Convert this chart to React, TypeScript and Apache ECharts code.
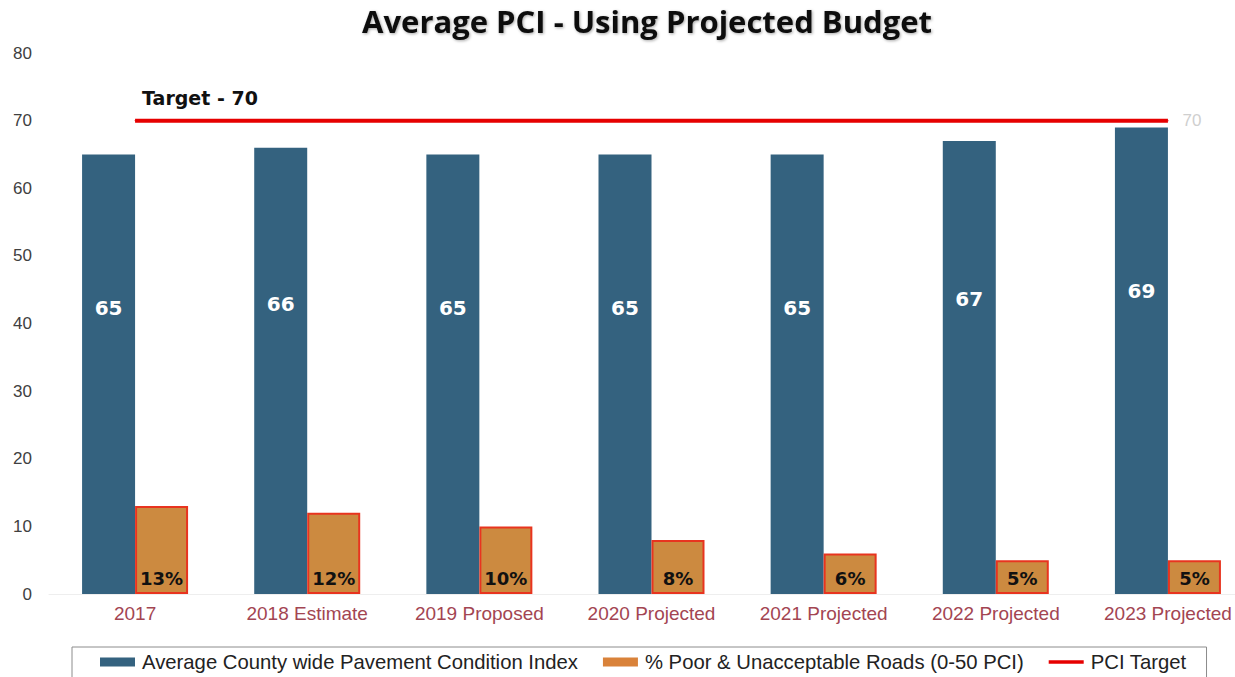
import React, { useEffect, useRef } from "react";
import * as echarts from "echarts";

const categories = [
  "2017",
  "2018 Estimate",
  "2019 Proposed",
  "2020 Projected",
  "2021 Projected",
  "2022 Projected",
  "2023 Projected",
];
const pciValues = [65, 66, 65, 65, 65, 67, 69];
const poorValues = [13, 12, 10, 8, 6, 5, 5];
const targetValues = [70, 70, 70, 70, 70, 70, 70];
const yTicks = { min: 0, max: 80, interval: 10 };

export default function App() {
  const ref = useRef<HTMLDivElement>(null);
  useEffect(() => {
    if (!ref.current) return;
    const chart = echarts.init(ref.current, null, { renderer: "svg" });
    const last = targetValues.length - 1;
    chart.setOption({
      animation: false,
      backgroundColor: "#ffffff",
      title: {
        text: "Average PCI - Using Projected Budget",
        left: 642,
        top: 0,
        textAlign: "center",
        textStyle: {
          fontFamily: "Open Sans",
          fontWeight: "bold",
          fontSize: 31,
          color: "#111111",
          textShadowColor: "rgba(0,0,0,0.35)",
          textShadowBlur: 3,
          textShadowOffsetX: 1,
          textShadowOffsetY: 1,
        },
      },
      grid: { left: 49, right: 0, top: 53, bottom: 83, containLabel: false },
      legend: {
        left: 72,
        top: 647,
        padding: [5, 20, 8, 28],
        borderColor: "#8c8c8c",
        borderWidth: 1,
        itemWidth: 35,
        itemHeight: 9,
        itemGap: 25,
        textStyle: { fontFamily: "Liberation Sans", fontSize: 20.3, color: "#222222", padding: [0, 0, 0, 2] },
        data: [
          { name: "Average County wide Pavement Condition Index", icon: "rect" },
          { name: "% Poor & Unacceptable Roads (0-50 PCI)", icon: "rect", itemStyle: { borderWidth: 0, color: "#D9823A" } },
          { name: "PCI Target", icon: "path://M0,0h35v3.5h-35z", itemStyle: { color: "#E60000" } },
        ],
      },
      xAxis: {
        type: "category",
        data: categories,
        axisLine: { show: true, lineStyle: { color: "#eeeeee", width: 1 } },
        axisTick: { show: false },
        axisLabel: {
          fontFamily: "Liberation Sans",
          fontSize: 19,
          color: "#A34552",
          margin: 10,
          interval: 0,
        },
      },
      yAxis: {
        type: "value",
        min: yTicks.min,
        max: yTicks.max,
        interval: yTicks.interval,
        splitLine: { show: false },
        axisLine: { show: false },
        axisTick: { show: false },
        axisLabel: {
          fontFamily: "Liberation Sans",
          fontSize: 17,
          color: "#404040",
          margin: 17,
        },
      },
      series: [
        {
          name: "Average County wide Pavement Condition Index",
          type: "bar",
          data: pciValues,
          barWidth: 53,
          barGap: "0%",
          itemStyle: { color: "#34627F" },
          label: {
            show: true,
            position: ["50%", "35%"],
            align: "center",
            verticalAlign: "middle",
            fontFamily: "DejaVu Sans",
            fontWeight: "bold",
            fontSize: 20,
            color: "#ffffff",
          },
        },
        {
          name: "% Poor & Unacceptable Roads (0-50 PCI)",
          type: "bar",
          data: poorValues,
          barWidth: 53,
          barGap: "0%",
          itemStyle: { color: "#CC8A40", borderColor: "#E8341F", borderWidth: 2 },
          label: {
            show: true,
            position: "insideBottom",
            distance: 7,
            formatter: "{c}%",
            fontFamily: "DejaVu Sans",
            fontWeight: "bold",
            fontSize: 18,
            color: "#111111",
          },
        },
        {
          name: "PCI Target",
          type: "line",
          data: targetValues.map((v, i) => {
            if (i === 0) {
              return {
                value: v,
                label: {
                  show: true,
                  position: "top",
                  align: "left",
                  offset: [7, -8],
                  formatter: "Target - {c}",
                  fontFamily: "DejaVu Sans",
                  fontWeight: "bold",
                  fontSize: 19,
                  color: "#111111",
                },
              };
            }
            if (i === last) {
              return {
                value: v,
                label: {
                  show: true,
                  position: "right",
                  distance: 14,
                  formatter: "{c}",
                  fontFamily: "Liberation Sans",
                  fontSize: 17,
                  color: "#cfcfcf",
                },
              };
            }
            return v;
          }),
          symbol: "circle",
          symbolSize: 1,
          showSymbol: true,
          lineStyle: { color: "#E60000", width: 4 },
          itemStyle: { color: "#E60000" },
          label: { show: false },
          z: 5,
        },
      ],
    });
    return () => chart.dispose();
  }, []);
  return (
    <div
      ref={ref}
      style={{ position: "fixed", left: 0, top: 0, width: 1254, height: 677 }}
    />
  );
}
